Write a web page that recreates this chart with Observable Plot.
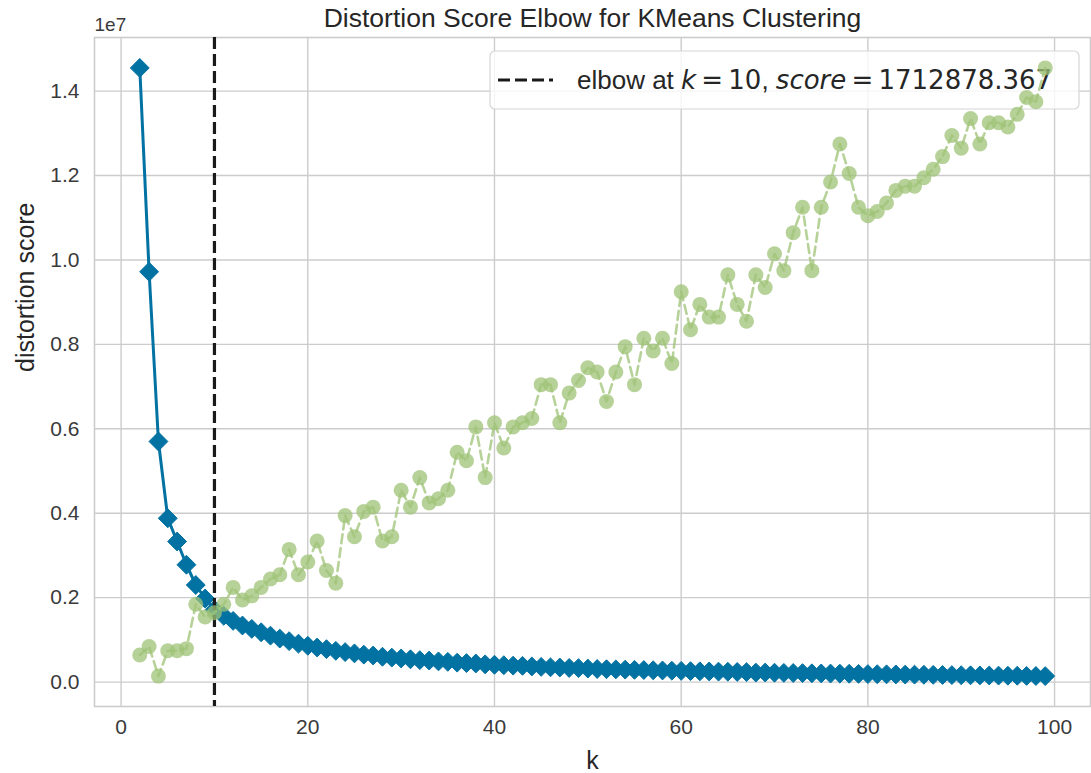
<!DOCTYPE html>
<html>
<head>
<meta charset="utf-8">
<script src="https://cdn.jsdelivr.net/npm/d3@7"></script>
<script src="https://cdn.jsdelivr.net/npm/@observablehq/plot@0.6"></script>
<style>
  html, body { margin: 0; padding: 0; background: #fff; }
  #chart { width: 1091px; height: 773px; }
</style>
</head>
<body>
<div id="chart"></div>
<script>
// ---- data ----
const kValues = [2,3,4,5,6,7,8,9,10,11,12,13,14,15,16,17,18,19,20,21,22,23,24,25,26,27,28,29,30,31,32,33,34,35,36,37,38,39,40,41,42,43,44,45,46,47,48,49,50,51,52,53,54,55,56,57,58,59,60,61,62,63,64,65,66,67,68,69,70,71,72,73,74,75,76,77,78,79,80,81,82,83,84,85,86,87,88,89,90,91,92,93,94,95,96,97,98,99];

// distortion score per k
const distortion = [
  14550000, 9720000, 5700000, 3880000, 3330000, 2780000, 2300000, 1980000, 1712878.367, 1570000,
  1450000, 1340000, 1260000, 1180000, 1100000, 1030000, 970000, 910000, 860000, 820000,
  780000, 740000, 710000, 680000, 650000, 630000, 600000, 580000, 560000, 540000,
  520000, 510000, 490000, 480000, 460000, 450000, 440000, 420000, 410000, 400000,
  390000, 385000, 370000, 360000, 350000, 345000, 335000, 330000, 320000, 310000,
  305000, 300000, 295000, 290000, 285000, 280000, 275000, 270000, 265000, 260000,
  255000, 252000, 248000, 245000, 240000, 236000, 225000, 226000, 222000, 218000,
  215000, 212000, 208000, 205000, 202000, 200000, 197000, 194000, 190000, 187000,
  184000, 181000, 178000, 176000, 173000, 171000, 168000, 166000, 163000, 161000,
  158000, 156000, 154000, 151000, 149000, 147000, 145000, 142000
];

// fit time (seconds) per k, plotted on a hidden twin axis
const fitTime = [
  0.11, 0.13, 0.06, 0.12, 0.12, 0.125, 0.23, 0.20, 0.21, 0.23,
  0.27, 0.24, 0.25, 0.27, 0.29, 0.30, 0.36, 0.30, 0.33, 0.38,
  0.31, 0.28, 0.44, 0.39, 0.45, 0.46, 0.38, 0.39, 0.50, 0.46,
  0.53, 0.47, 0.48, 0.50, 0.59, 0.57, 0.65, 0.53, 0.66, 0.60,
  0.65, 0.66, 0.67, 0.75, 0.75, 0.66, 0.73, 0.76, 0.79, 0.78,
  0.71, 0.78, 0.84, 0.75, 0.86, 0.83, 0.86, 0.80, 0.97, 0.88,
  0.94, 0.91, 0.91, 1.01, 0.94, 0.90, 1.01, 0.98, 1.06, 1.02,
  1.11, 1.17, 1.02, 1.17, 1.23, 1.32, 1.25, 1.17, 1.15, 1.16,
  1.18, 1.21, 1.22, 1.22, 1.24, 1.26, 1.29, 1.34, 1.31, 1.38,
  1.32, 1.37, 1.37, 1.36, 1.39, 1.43, 1.42, 1.50
];

const elbowK = 10;
const elbowScore = 1712878.367;
const xTicks = [0, 20, 40, 60, 80, 100];
const yTicks = [0, 2000000, 4000000, 6000000, 8000000, 10000000, 12000000, 14000000];
const titleText = "Distortion Score Elbow for KMeans Clustering";
const xLabel = "k";
const yLabel = "distortion score";
const offsetText = "1e7";

// ---- build ----
const blueColor = "#0272a2";
const greenColor = "#9fc377";
const pad = (lo, hi) => [lo - 0.05 * (hi - lo), hi + 0.05 * (hi - lo)];
const xDom = pad(d3.min(kValues), d3.max(kValues));
const yDom = pad(d3.min(distortion), d3.max(distortion));
const tDom = pad(d3.min(fitTime), d3.max(fitTime));
const twin = d3.scaleLinear().domain(tDom).range(yDom); // twin y axis mapped onto primary

const blue = kValues.map((k, i) => ({k, d: distortion[i]}));
const green = kValues.map((k, i) => ({k, t: fitTime[i], y: twin(fitTime[i])}));

const sans = "'Liberation Sans', Arial, Helvetica, sans-serif";
const mathFont = "'DejaVu Sans', sans-serif";

function legendMark(index, scales, values, dims) {
  const g = d3.create("svg:g");
  const x0 = 490, y0 = 51, w = 589, h = 58;
  g.append("rect").attr("x", x0).attr("y", y0).attr("width", w).attr("height", h)
    .attr("rx", 5).attr("fill", "#fff").attr("fill-opacity", 0.8)
    .attr("stroke", "#d6d6d6").attr("stroke-width", 1.2);
  g.append("line").attr("x1", x0 + 8).attr("x2", x0 + 63)
    .attr("y1", y0 + 29).attr("y2", y0 + 29)
    .attr("stroke", "#1a1a1a").attr("stroke-width", 3.2).attr("stroke-dasharray", "12,5");
  const t = g.append("text").attr("x", x0 + 87).attr("y", y0 + 38)
    .attr("text-anchor", "start")
    .attr("fill", "#262626").style("white-space", "pre").attr("font-size", 26);
  t.append("tspan").attr("font-family", sans).text("elbow at ");
  t.append("tspan").attr("font-family", mathFont).attr("font-style", "italic").text("k");
  t.append("tspan").attr("font-family", mathFont).text("\u2009=\u2009" + elbowK);
  t.append("tspan").attr("font-family", sans).text(", ");
  t.append("tspan").attr("font-family", mathFont).attr("font-style", "italic").text("score");
  t.append("tspan").attr("font-family", mathFont).text("\u2009=\u2009" + elbowScore.toFixed(3));
  return g.node();
}

const chart = Plot.plot({
  width: 1091,
  height: 773,
  marginLeft: 94,
  marginRight: 1,
  marginTop: 37,
  marginBottom: 67,
  style: {fontFamily: sans, color: "#262626", background: "#fff"},
  x: {type: "linear", domain: xDom},
  y: {type: "linear", domain: yDom},
  marks: [
    Plot.gridX(xTicks, {stroke: "#cccccc", strokeOpacity: 1, strokeWidth: 1.4}),
    Plot.gridY(yTicks, {stroke: "#cccccc", strokeOpacity: 1, strokeWidth: 1.4}),
    Plot.frame({stroke: "#cccccc", strokeWidth: 1.6}),
    Plot.axisX(xTicks, {tickSize: 0, tickPadding: 13, fontSize: 21, label: null, fill: "#3a3a3a"}),
    Plot.axisY(yTicks, {tickSize: 0, tickPadding: 15, fontSize: 21, label: null, fill: "#3a3a3a",
      tickFormat: d => (d / 1e7).toFixed(1)}),
    Plot.text([offsetText], {frameAnchor: "top-left", textAnchor: "start", lineAnchor: "middle",
      dy: -13, fontSize: 19, fill: "#3a3a3a"}),
    Plot.text([titleText], {frameAnchor: "top", lineAnchor: "middle", dy: -19, fontSize: 26.5, fill: "#262626"}),
    Plot.text([yLabel], {frameAnchor: "left", rotate: -90, lineAnchor: "middle", dx: -69, fontSize: 25, fill: "#262626"}),
    Plot.text([xLabel], {frameAnchor: "bottom", lineAnchor: "middle", dy: 54, fontSize: 25, fill: "#262626"}),
    Plot.line(blue, {x: "k", y: "d", stroke: blueColor, strokeWidth: 3}),
    Plot.dot(blue, {x: "k", y: "d", symbol: "diamond2", r: 8.5, fill: blueColor, stroke: blueColor, strokeWidth: 1}),
    Plot.ruleX([elbowK], {stroke: "#1a1a1a", strokeWidth: 3.2, strokeDasharray: "12,5"}),
    legendMark,
    Plot.line(green, {x: "k", y: "y", stroke: greenColor, strokeOpacity: 0.75, strokeWidth: 2.6, strokeDasharray: "9,5"}),
    Plot.dot(green, {x: "k", y: "y", r: 7.5, fill: greenColor, fillOpacity: 0.75, stroke: "none"})
  ]
});
document.getElementById("chart").appendChild(chart);
</script>
</body>
</html>
